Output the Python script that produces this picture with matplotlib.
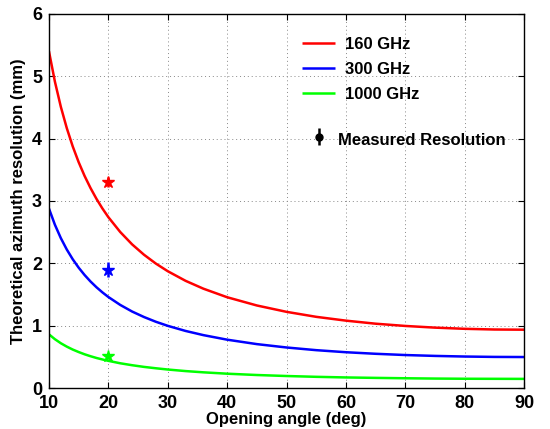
import matplotlib
matplotlib.use("Agg")
import matplotlib.pyplot as plt

plt.rcParams['font.family'] = ['Liberation Sans', 'DejaVu Sans']
plt.rcParams['font.weight'] = 'bold'

angle = [10, 11, 12, 13, 14, 15, 16, 17, 18, 19, 20, 22, 24, 26, 28, 30, 33, 36, 40, 45, 50, 55, 60, 65, 70, 75, 80, 85, 90]
res_160 = [5.399, 4.913, 4.509, 4.168, 3.875, 3.622, 3.401, 3.207, 3.034, 2.880, 2.741, 2.503, 2.305, 2.139, 1.997,
           1.875, 1.721, 1.595, 1.458, 1.326, 1.224, 1.144, 1.083, 1.034, 0.998, 0.971, 0.952, 0.941, 0.938]
res_300 = [2.879, 2.620, 2.405, 2.223, 2.067, 1.932, 1.814, 1.710, 1.618, 1.536, 1.462, 1.335, 1.229, 1.141, 1.065,
           1.000, 0.918, 0.851, 0.778, 0.707, 0.653, 0.610, 0.577, 0.552, 0.532, 0.518, 0.508, 0.502, 0.500]
res_1000 = [0.864, 0.786, 0.721, 0.667, 0.620, 0.580, 0.544, 0.513, 0.485, 0.461, 0.439, 0.400, 0.369, 0.342, 0.320,
            0.300, 0.275, 0.255, 0.233, 0.212, 0.196, 0.183, 0.173, 0.166, 0.160, 0.155, 0.152, 0.151, 0.150]

meas_angle = [20, 20, 20]
meas_res = [3.30, 1.90, 0.52]
meas_err = [0.08, 0.12, 0.05]
meas_colors = ['#ff0000', '#0000ff', '#00ff00']

labels = ['160 GHz', '300 GHz', '1000 GHz']

fig = plt.figure(figsize=(5.5, 4.29), dpi=100)
ax = fig.add_axes([0.089, 0.095, 0.864, 0.873])

kw = dict(lw=1.8, solid_joinstyle='round', solid_capstyle='butt')
l1, = ax.plot(angle, res_160, color='#ff0000', **kw)
l2, = ax.plot(angle, res_300, color='#0000ff', **kw)
l3, = ax.plot(angle, res_1000, color='#00ff00', **kw)

for x, y, e, c in zip(meas_angle, meas_res, meas_err, meas_colors):
    ax.errorbar([x], [y], yerr=[e], fmt='*', color=c, ms=9, capsize=0, elinewidth=1.8)

ax.set_xlim(10, 90)
ax.set_ylim(0, 6)
ax.set_xticks(range(10, 91, 10))
ax.set_yticks(range(0, 7))
ax.grid(True, linestyle=(0, (1, 3)), color='#888888', lw=0.7)
ax.tick_params(direction='in', top=True, right=True, labelsize=13, length=4)
ax.tick_params(axis='x', pad=5)
ax.tick_params(axis='y', pad=5)
for s in ax.spines.values():
    s.set_linewidth(1.0)

ax.set_xlabel('Opening angle (deg)', fontsize=12, fontweight='bold', labelpad=0)
ax.set_ylabel('Theoretical azimuth resolution (mm)', fontsize=12, fontweight='bold', labelpad=4)

leg1 = ax.legend([l1, l2, l3], labels, loc='upper left', bbox_to_anchor=(0.50, 0.978),
                 frameon=False, handlelength=2.0, labelspacing=0.6, handletextpad=0.6,
                 prop={'weight': 'bold', 'size': 12})
ax.add_artist(leg1)
eb = ax.errorbar([], [], yerr=[], fmt='o', color='black', ms=5, capsize=3, elinewidth=1.8)
leg2 = ax.legend([eb], ['Measured Resolution'], loc='upper left', bbox_to_anchor=(0.52, 0.735),
                 frameon=False, handlelength=1.0, handleheight=1.8, handletextpad=0.6,
                 prop={'weight': 'bold', 'size': 12})

fig.savefig('out.png', dpi=100)
